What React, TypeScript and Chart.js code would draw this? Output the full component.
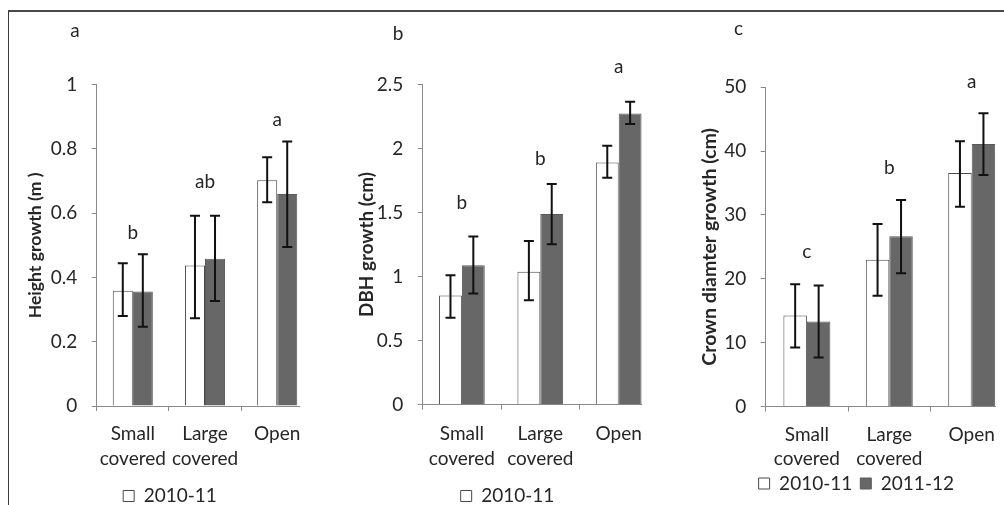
import React, { useEffect, useRef } from "react";
import { Chart, registerables } from "chart.js";

Chart.register(...registerables);

// ---------- data ----------
const categories = [["Small", "covered"], ["Large", "covered"], "Open"];
const seriesLabels = ["2010-11", "2011-12"];

// Panel a: Height growth (m)
const heightMean1 = [0.359, 0.437, 0.703];
const heightLow1 = [0.28, 0.273, 0.634];
const heightHigh1 = [0.444, 0.592, 0.774];
const heightMean2 = [0.356, 0.458, 0.66];
const heightLow2 = [0.247, 0.327, 0.495];
const heightHigh2 = [0.472, 0.592, 0.823];
const heightLetters = ["b", "ab", "a"];
const heightLetterAt = [0.54, 0.698, 0.889];
const heightAxis = [0, 1, 0.2]; // min, max, step

// Panel b: DBH growth (cm)
const dbhMean1 = [0.852, 1.036, 1.89];
const dbhLow1 = [0.677, 0.815, 1.77];
const dbhHigh1 = [1.01, 1.276, 2.02];
const dbhMean2 = [1.088, 1.487, 2.273];
const dbhLow2 = [0.867, 1.252, 2.19];
const dbhHigh2 = [1.312, 1.723, 2.364];
const dbhLetters = ["b", "b", "a"];
const dbhLetterAt = [1.577, 1.921, 2.637];
const dbhAxis = [0, 2.5, 0.5];

// Panel c: Crown diameter growth (cm)
const crownMean1 = [14.25, 22.97, 36.58];
const crownLow1 = [9.24, 17.33, 31.3];
const crownHigh1 = [19.16, 28.6, 41.55];
const crownMean2 = [13.3, 26.67, 41.12];
const crownLow2 = [7.67, 20.88, 36.27];
const crownHigh2 = [18.94, 32.36, 45.93];
const crownLetters = ["c", "b", "a"];
const crownLetterAt = [24.25, 37.4, 50.86];
const crownAxis = [0, 50, 10];

// ---------- styles ----------
const FONT = "Lato";
const TEXT = "#262626";
const AXIS = "#8a8a8a";

const formatTick = (v: any) => String(Math.round(Number(v) * 100) / 100);

// font size that makes a bold title span the given length
function fitTitleSize(text: string, length: number): number {
  const c = document.createElement("canvas");
  const ctx = c.getContext("2d");
  if (!ctx) return 17;
  ctx.font = `bold 20px ${FONT}`;
  const w = ctx.measureText(text).width;
  if (!w) return 17;
  return Math.max(12, Math.min(24, (20 * length) / w));
}

const annotate = {
  id: "annotate",
  afterDatasetsDraw(chart: any, _args: any, opts: any) {
    const ctx = chart.ctx;
    const ys = chart.scales.y;
    const xs = chart.scales.x;
    ctx.save();
    ctx.strokeStyle = "#111";
    ctx.lineWidth = 2;
    chart.data.datasets.forEach((ds: any, di: number) => {
      const meta = chart.getDatasetMeta(di);
      meta.data.forEach((bar: any, i: number) => {
        const bx = bar.x;
        const yl = ys.getPixelForValue(ds.errLow[i]);
        const yh = ys.getPixelForValue(ds.errHigh[i]);
        ctx.beginPath();
        ctx.moveTo(bx, yl);
        ctx.lineTo(bx, yh);
        ctx.moveTo(bx - 5, yl);
        ctx.lineTo(bx + 5, yl);
        ctx.moveTo(bx - 5, yh);
        ctx.lineTo(bx + 5, yh);
        ctx.stroke();
      });
    });
    ctx.fillStyle = TEXT;
    ctx.font = `19px ${FONT}`;
    ctx.textAlign = "center";
    ctx.textBaseline = "middle";
    opts.letters.forEach((t: string, i: number) => {
      ctx.fillText(t, xs.getPixelForValue(i), ys.getPixelForValue(opts.letterAt[i]));
    });
    ctx.fillText(opts.panel, opts.panelX, opts.panelY);
    ctx.restore();
  },
};

type PanelCfg = {
  left: number;
  clipWidth: number;
  canvasW: number;
  canvasH: number;
  padding: { left: number; right: number; top: number; bottom: number };
  yWidth: number;
  xHeight: number;
  xTickPad: number;
  legendPad: number;
  catPct: number;
  axis: number[];
  title: string;
  titleLength: number;
  mean1: number[];
  low1: number[];
  high1: number[];
  mean2: number[];
  low2: number[];
  high2: number[];
  letters: string[];
  letterAt: number[];
  panel: string;
  panelX: number;
  panelY: number;
  showSecondLegend: boolean;
};

function Panel({ cfg }: { cfg: PanelCfg }) {
  const ref = useRef<HTMLCanvasElement>(null);
  useEffect(() => {
    if (!ref.current) return;
    const titleSize = fitTitleSize(cfg.title, cfg.titleLength);
    const chart = new Chart(ref.current, {
      type: "bar",
      data: {
        labels: categories as any,
        datasets: [
          {
            label: seriesLabels[0],
            data: cfg.mean1,
            errLow: cfg.low1,
            errHigh: cfg.high1,
            backgroundColor: "#ffffff",
            borderColor: "#4a4a4a",
            borderWidth: 1,
            categoryPercentage: cfg.catPct,
            barPercentage: 1,
          } as any,
          {
            label: seriesLabels[1],
            data: cfg.mean2,
            errLow: cfg.low2,
            errHigh: cfg.high2,
            backgroundColor: "#676767",
            borderColor: "#5a5a5a",
            borderWidth: 1,
            categoryPercentage: cfg.catPct,
            barPercentage: 1,
          } as any,
        ],
      },
      options: {
        animation: false,
        responsive: false,
        devicePixelRatio: 1,
        layout: { padding: cfg.padding },
        scales: {
          x: {
            grid: {
              display: true,
              drawOnChartArea: false,
              drawTicks: true,
              tickLength: 5,
              color: AXIS,
              offset: true,
            },
            border: { display: true, color: AXIS, width: 1 },
            ticks: {
              color: TEXT,
              font: { family: FONT, size: 19, lineHeight: 1.3 },
              padding: cfg.xTickPad,
              maxRotation: 0,
              autoSkip: false,
            },
            afterFit: (s: any) => {
              s.height = cfg.xHeight;
            },
          },
          y: {
            min: cfg.axis[0],
            max: cfg.axis[1],
            grid: {
              display: true,
              drawOnChartArea: false,
              drawTicks: true,
              tickLength: 5,
              color: AXIS,
            },
            border: { display: true, color: AXIS, width: 1 },
            ticks: {
              stepSize: cfg.axis[2],
              color: TEXT,
              font: { family: FONT, size: 19 },
              padding: 14.5,
              callback: formatTick,
            },
            title: {
              display: true,
              text: cfg.title,
              color: TEXT,
              font: { family: FONT, size: titleSize, weight: "bold", lineHeight: 1 },
              padding: 0,
            },
            afterFit: (s: any) => {
              s.width = cfg.yWidth;
            },
          },
        },
        plugins: {
          legend: {
            display: true,
            position: "bottom",
            align: "center",
            labels: {
              boxWidth: 11,
              boxHeight: 11,
              padding: cfg.legendPad,
              color: TEXT,
              font: { family: FONT, size: 19 },
              filter: (item: any) => cfg.showSecondLegend || item.datasetIndex === 0,
            },
          },
          tooltip: { enabled: false },
          annotate: {
            letters: cfg.letters,
            letterAt: cfg.letterAt,
            panel: cfg.panel,
            panelX: cfg.panelX,
            panelY: cfg.panelY,
          },
        } as any,
      },
      plugins: [annotate],
    });
    return () => chart.destroy();
  }, [cfg]);
  return (
    <div
      style={{
        position: "absolute",
        left: cfg.left,
        top: 0,
        width: cfg.clipWidth,
        height: 505,
        overflow: "hidden",
      }}
    >
      <canvas
        ref={ref}
        width={cfg.canvasW}
        height={cfg.canvasH}
        style={{ display: "block", width: cfg.canvasW, height: cfg.canvasH }}
      />
    </div>
  );
}

const panelA: PanelCfg = {
  left: 9,
  clipWidth: 291,
  canvasW: 305,
  canvasH: 516,
  padding: { left: 17.7, right: 0.7, top: 84.7, bottom: 0.5 },
  yWidth: 70,
  xHeight: 70.5,
  xTickPad: 11,
  legendPad: 10,
  catPct: 0.555,
  axis: heightAxis,
  title: "Height growth (m )",
  titleLength: 146,
  mean1: heightMean1,
  low1: heightLow1,
  high1: heightHigh1,
  mean2: heightMean2,
  low2: heightLow2,
  high2: heightHigh2,
  letters: heightLetters,
  letterAt: heightLetterAt,
  panel: "a",
  panelX: 66,
  panelY: 31,
  showSecondLegend: false,
};

const panelB: PanelCfg = {
  left: 300,
  clipWidth: 342,
  canvasW: 358,
  canvasH: 516,
  padding: { left: 57.1, right: 0.1, top: 84.4, bottom: 0.5 },
  yWidth: 65.6,
  xHeight: 72,
  xTickPad: 12.5,
  legendPad: 10,
  catPct: 0.583,
  axis: dbhAxis,
  title: "DBH growth (cm)",
  titleLength: 145,
  mean1: dbhMean1,
  low1: dbhLow1,
  high1: dbhHigh1,
  mean2: dbhMean2,
  low2: dbhLow2,
  high2: dbhHigh2,
  letters: dbhLetters,
  letterAt: dbhLetterAt,
  panel: "b",
  panelX: 98,
  panelY: 34.3,
  showSecondLegend: false,
};

const panelC: PanelCfg = {
  left: 642,
  clipWidth: 354,
  canvasW: 371,
  canvasH: 505,
  padding: { left: 57.7, right: 0.1, top: 87.3, bottom: 2 },
  yWidth: 66,
  xHeight: 59.5,
  xTickPad: 10.6,
  legendPad: 8,
  catPct: 0.57,
  axis: crownAxis,
  title: "Crown diamter growth (cm)",
  titleLength: 238,
  mean1: crownMean1,
  low1: crownLow1,
  high1: crownHigh1,
  mean2: crownMean2,
  low2: crownLow2,
  high2: crownHigh2,
  letters: crownLetters,
  letterAt: crownLetterAt,
  panel: "c",
  panelX: 96.5,
  panelY: 28.6,
  showSecondLegend: true,
};

export default function App() {
  return (
    <div
      style={{
        position: "fixed",
        left: 0,
        top: 0,
        width: 1004,
        height: 505,
        background: "#ffffff",
        overflow: "hidden",
      }}
    >
      <div
        style={{
          position: "absolute",
          left: 8,
          top: 10,
          width: 996,
          height: 495,
          borderLeft: "1px solid #3a3a3a",
          borderTop: "2px solid #4a4a4a",
          boxSizing: "border-box",
        }}
      />
      <Panel cfg={panelA} />
      <Panel cfg={panelB} />
      <Panel cfg={panelC} />
    </div>
  );
}
